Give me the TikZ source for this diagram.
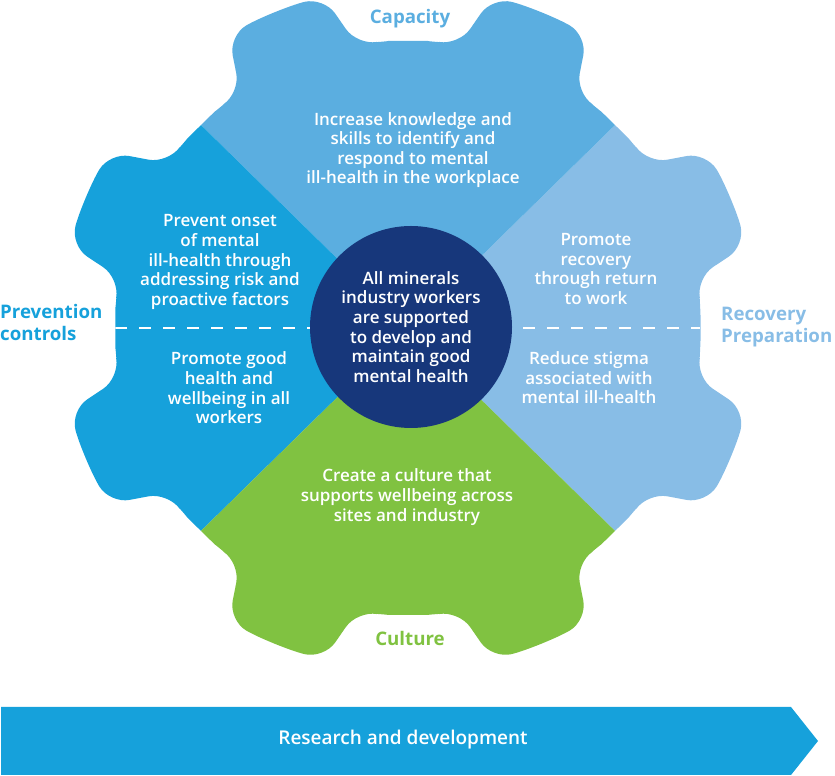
\documentclass[tikz,border=0pt]{standalone}
\usepackage{fontspec}
\setmainfont{Open Sans}
\IfFontExistsTF{Open Sans SemiBold}
  {\newfontfamily\fieldFont{Open Sans SemiBold}}
  {\IfFontExistsTF{Open Sans Semibold}
    {\newfontfamily\fieldFont{Open Sans Semibold}}
    {\newfontfamily\fieldFont{Open Sans}}}
\usepackage{xcolor}

\definecolor{capacityBlue}{HTML}{5BAEE0}
\definecolor{preventionBlue}{HTML}{16A1DB}
\definecolor{recoveryBlue}{HTML}{88BDE6}
\definecolor{cultureGreen}{HTML}{80C241}
\definecolor{coreNavy}{HTML}{17377B}

\begin{document}
\begin{tikzpicture}[x=1pt,y=1pt,
  fieldText/.style={align=center,text=white,inner sep=0pt,font=\fieldFont\fontsize{17}{19.6}\selectfont},
  sideLabel/.style={align=left,inner sep=0pt,font=\bfseries\fontsize{18.7}{22}\selectfont}]
  \pgfmathsetmacro{\gearX}{408}
  \pgfmathsetmacro{\gearY}{448}
  \pgfmathsetmacro{\rootRadius}{287}
  \pgfmathsetmacro{\tipRadius}{341}
  \pgfmathsetmacro{\coreRadius}{101}

  \useasboundingbox (0,0) rectangle (835,776);

  % Zahnrad
  \begin{scope}[shift={(\gearX,\gearY)},xscale=1.02]
    \clip[rounded corners=20pt] (0:\rootRadius)
      \foreach \k in {0,...,7} {
        arc[start angle=45*\k,end angle=45*\k+10,radius=\rootRadius]
        -- ({45*\k+14}:\tipRadius)
        arc[start angle=45*\k+14,end angle=45*\k+31,radius=\tipRadius]
        -- ({45*\k+35}:\rootRadius)
        arc[start angle=45*\k+35,end angle=45*\k+45,radius=\rootRadius]
      };

    % Sektoren
    \fill[recoveryBlue]   (0,0) -- (-45:600) -- (45:600) -- cycle;
    \fill[capacityBlue]   (0,0) -- (45:600) -- (135:600) -- cycle;
    \fill[preventionBlue] (0,0) -- (135:600) -- (225:600) -- cycle;
    \fill[cultureGreen]   (0,0) -- (225:600) -- (315:600) -- cycle;

    % Trennlinie
    \draw[white,line width=2pt,dash pattern=on 12pt off 12pt] (180:\rootRadius) -- (0:\rootRadius);
  \end{scope}

  % Mitte
  \node[circle,fill=coreNavy,minimum size=2*\coreRadius,fieldText] (core) at (411,449)
    {All minerals\\industry workers\\are supported\\to develop and\\maintain good\\mental health};

  % Felder
  \node[fieldText] (capacityText) at (413,626)
    {Increase knowledge and\\skills to identify and\\respond to mental\\ill-health in the workplace};
  \node[fieldText] (preventText) at (220,514)
    {Prevent onset\\of mental\\ill-health through\\addressing risk and\\proactive factors};
  \node[fieldText] (healthText) at (229,388)
    {Promote good\\health and\\wellbeing in all\\workers};
  \node[fieldText] (recoveryText) at (596,507)
    {Promote\\recovery\\through return\\to work};
  \node[fieldText] (stigmaText) at (589,398)
    {Reduce stigma\\associated with\\mental ill-health};
  \node[fieldText] (cultureText) at (407,279)
    {Create a culture that\\supports wellbeing across\\sites and industry};

  % Beschriftungen
  \node[sideLabel,text=capacityBlue] (capacityLabel) at (410,757) {Capacity};
  \node[sideLabel,text=cultureGreen] (cultureLabel) at (410,138) {Culture};
  \node[sideLabel,text=preventionBlue,anchor=west] (preventionLabel) at (0,454) {Prevention\\controls};
  \node[sideLabel,text=recoveryBlue,anchor=west] (recoveryLabel) at (721,449) {Recovery\\Preparation};

  % Pfeil
  \fill[preventionBlue] (1,1) -- (791,1) -- (818,35) -- (791,69) -- (1,69) -- cycle;
  \node[fieldText,font=\fieldFont\fontsize{19}{22}\selectfont] (researchText) at (403,36) {Research and development};
\end{tikzpicture}
\end{document}
